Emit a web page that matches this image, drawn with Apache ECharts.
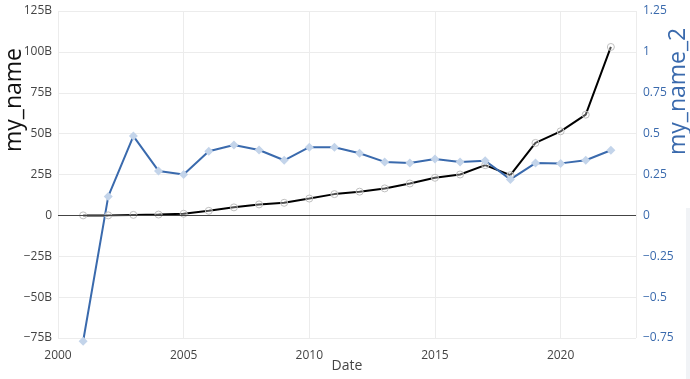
<!DOCTYPE html>
<html>
<head>
<meta charset="utf-8">
<script src="https://cdn.jsdelivr.net/npm/echarts@6/dist/echarts.min.js"></script>
<style>
html,body{margin:0;padding:0;background:#fff;}
#chart{width:690px;height:379px;}
</style>
</head>
<body>
<div id="chart"></div>
<script>
var years = [2001,2002,2003,2004,2005,2006,2007,2008,2009,2010,2011,2012,2013,2014,2015,2016,2017,2018,2019,2020,2021,2022];
// my_name values, in billions
var myNameB = [0,0,0.3,0.5,1,2.8,4.9,6.7,7.7,10.3,13,14.5,16.5,19.5,23,25,30.7,24.6,44.3,51.4,61.6,103];
var myName2 = [-0.77,0.116,0.485,0.272,0.25,0.392,0.43,0.40,0.337,0.417,0.417,0.38,0.327,0.32,0.345,0.327,0.334,0.22,0.32,0.318,0.337,0.398];
var leftTicks = {min:-75e9, max:125e9, interval:25e9};
var rightTicks = {min:-0.75, max:1.25, interval:0.25};
var xTicks = {min:2000, max:2023, interval:5};

var FONT = '"Open Sans", "DejaVu Sans", Arial, sans-serif';
var BLUE = '#3a6aad';
var GRID = '#ececec';

function fmtLeft(v){ if (v===0) return '0'; return (v<0?'\u2212':'') + Math.abs(Math.round(v/1e9)) + 'B'; }
function fmtRight(v){ if (Math.abs(v)<1e-9) return '0'; return (v<0?'\u2212':'') + String(Math.abs(+v.toFixed(2))); }

var chart = echarts.init(document.getElementById('chart'), null, {renderer:'canvas'});
chart.setOption({
  animation:false,
  backgroundColor:'#fff',
  grid:{left:58, right:54, top:11, bottom:41, containLabel:false},
  xAxis:{
    type:'value', min:xTicks.min, max:xTicks.max, interval:xTicks.interval,
    axisLine:{show:false}, axisTick:{show:false},
    splitLine:{show:true, lineStyle:{color:GRID, width:1}},
    axisLabel:{color:'#444', fontFamily:FONT, fontSize:12, margin:12, showMaxLabel:false,
      formatter:function(v){return v % 5 === 0 ? String(v) : '';}}
  },
  yAxis:[{
    type:'value', position:'left', min:leftTicks.min, max:leftTicks.max, interval:leftTicks.interval,
    axisLine:{show:false}, axisTick:{show:false},
    splitLine:{show:true, lineStyle:{color:GRID, width:1}},
    axisLabel:{color:'#444', fontFamily:FONT, fontSize:12, margin:6, formatter:fmtLeft}
  },{
    type:'value', position:'right', min:rightTicks.min, max:rightTicks.max, interval:rightTicks.interval,
    axisLine:{show:false}, axisTick:{show:false},
    splitLine:{show:false},
    axisLabel:{color:BLUE, fontFamily:FONT, fontSize:12, margin:7, formatter:fmtRight}
  }],
  series:[{
    name:'my_name', type:'line', yAxisIndex:0,
    data: years.map(function(y,i){return [y, myNameB[i]*1e9];}),
    symbol:'circle', symbolSize:7, showSymbol:true, clip:false,
    lineStyle:{color:'#000', width:2},
    itemStyle:{color:'rgba(255,255,255,0.3)', borderColor:'#c0c0c0', borderWidth:1},
    markLine:{silent:true, symbol:['none','none'], label:{show:false},
      lineStyle:{color:'#444', width:1, type:'solid'}, data:[{yAxis:0}], animation:false}
  },{
    name:'my_name_2', type:'line', yAxisIndex:1,
    data: years.map(function(y,i){return [y, myName2[i]];}),
    symbol:'diamond', symbolSize:9, showSymbol:true, clip:false,
    lineStyle:{color:BLUE, width:2},
    itemStyle:{color:'#c3d4ea', borderWidth:0}
  }],
  graphic:[
    {type:'text', x:3, y:152, rotation:Math.PI/2, style:{text:'my_name', fontFamily:FONT, fontSize:23, fill:'#111'}},
    {type:'text', x:667, y:155, rotation:Math.PI/2, style:{text:'my_name_2', fontFamily:FONT, fontSize:23, fill:BLUE}},
    {type:'text', x:347, y:359, style:{text:'Date', fontFamily:FONT, fontSize:14, fill:'#444', textAlign:'center'}},
    {type:'rect', shape:{x:686, y:208, width:4, height:171}, style:{fill:'#f1f3f6'}}
  ]
});
</script>
</body>
</html>
